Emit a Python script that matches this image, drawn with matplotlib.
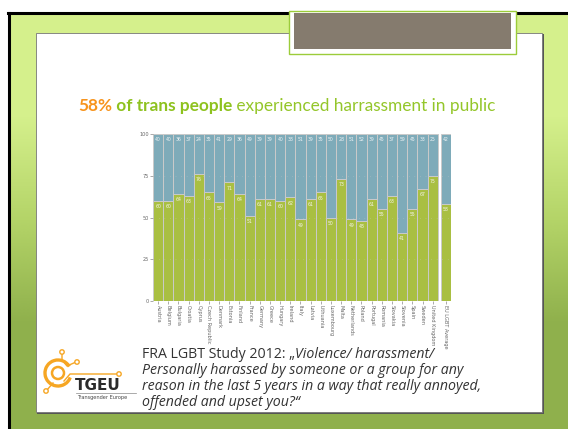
import matplotlib
matplotlib.use("Agg")
import matplotlib.pyplot as plt
import numpy as np
from matplotlib.colors import LinearSegmentedColormap
from matplotlib.patches import Rectangle, Circle, Arc

countries = ["Austria", "Belgium", "Bulgaria", "Croatia", "Cyprus", "Czech Republic",
             "Denmark", "Estonia", "Finland", "France", "Germany", "Greece", "Hungary",
             "Ireland", "Italy", "Latvia", "Lithuania", "Luxembourg", "Malta",
             "Netherlands", "Poland", "Portugal", "Romania", "Slovakia", "Slovenia",
             "Spain", "Sweden", "United Kingdom"]
yes_pct = [60, 60, 64, 63, 76, 65, 59, 71, 64, 51, 61, 61, 60, 62, 49, 61, 65, 50,
           73, 49, 48, 61, 55, 63, 41, 55, 67, 75]
no_pct = [40, 40, 36, 37, 24, 35, 41, 29, 36, 49, 39, 39, 40, 38, 51, 39, 35, 50,
          28, 51, 52, 39, 45, 37, 59, 45, 33, 25]
avg_label = "EU LGBT Average"
avg_yes = 58
avg_no = 42
yticks = [0, 25, 50, 75, 100]

GREEN = "#a9bf42"
BLUE = "#7eabb9"

fig = plt.figure(figsize=(5.68, 4.29), dpi=100)

# slide background in pixel coordinates
bg = fig.add_axes([0, 0, 1, 1])
bg.set_xlim(0, 568)
bg.set_ylim(429, 0)
bg.axis("off")
cmap = LinearSegmentedColormap.from_list("g", ["#d5f08c", "#b4d468", "#8fb04c"])
bg.imshow(np.array([[0.0], [1.0]]), cmap=cmap, extent=(8, 568, 429, 13),
          aspect="auto", interpolation="bilinear", zorder=0)
bg.plot([8, 568], [13, 13], color="black", lw=2.2, zorder=1)
bg.plot([9, 9], [13, 429], color="black", lw=2.2, zorder=1)
# white content panel with shadow
bg.add_patch(Rectangle((37, 34), 507, 380, facecolor="#555555", edgecolor="none", zorder=1))
bg.add_patch(Rectangle((36, 33), 506, 379, facecolor="white", edgecolor="#777777",
                       lw=0.6, zorder=2))
# grey title box
bg.add_patch(Rectangle((289, 11), 227, 43, facecolor="white", edgecolor="#9ccc3a",
                       lw=1.0, zorder=3))
bg.add_patch(Rectangle((294, 13), 217, 36, facecolor="#857b6e", edgecolor="none", zorder=4))

fig.canvas.draw()
r = fig.canvas.get_renderer()

# title made of three styled pieces
x = 78
for txt, col, wt in [("58%", "#f7941d", "bold"), (" of trans people", "#8ec21f", "bold"),
                     (" experienced harrassment in public", "#94c62a", "normal")]:
    t = bg.text(x, 106, txt, color=col, fontsize=12.4, fontweight=wt,
                family="Lato", va="center", ha="left", zorder=5)
    x += t.get_window_extent(renderer=r).width

# caption
cap_x = 142
cap_kw = dict(fontsize=10.2, color="#333333", family="Open Sans", va="center", zorder=5)
t1 = bg.text(cap_x, 355, "FRA LGBT Study 2012: \u201e", **cap_kw)
bg.text(cap_x + t1.get_window_extent(renderer=r).width, 355, "Violence/ harassment/",
        style="italic", **cap_kw)
for yy, line in [(371, "Personally harassed by someone or a group for any"),
                 (387, "reason in the last 5 years in a way that really annoyed,"),
                 (403, "offended and upset you?\u201c")]:
    bg.text(cap_x, yy, line, style="italic", **cap_kw)

# TGEU logo
ORANGE = "#f6a623"
bg.add_patch(Arc((58, 373), 26, 26, theta1=20, theta2=330, color=ORANGE, lw=2.4, zorder=5))
bg.add_patch(Circle((58, 373), 6, facecolor="none", edgecolor=ORANGE, lw=1.8, zorder=5))
bg.plot([62, 62, 67, 76], [353, 360, 366, 362], color=ORANGE, lw=1, zorder=5)
bg.plot([64, 70, 118], [381, 374, 374], color=ORANGE, lw=1, zorder=5)
bg.plot([47, 53], [390, 383], color=ORANGE, lw=1, zorder=5)
for cx, cy in [(62, 352), (77, 362), (119, 374), (46, 391)]:
    bg.add_patch(Circle((cx, cy), 2.2, facecolor="white", edgecolor=ORANGE, lw=1, zorder=6))
bg.text(75, 385, "TGEU", fontsize=11, fontweight="bold", color="#2b2b2b",
        family="DejaVu Sans", va="center", ha="left", zorder=6)
bg.plot([76, 136], [393, 393], color="#888888", lw=0.5, zorder=6)
bg.text(77, 398, "Transgender Europe", fontsize=3.6, color="#444444",
        va="center", ha="left", zorder=6)

# chart
ax = fig.add_axes([153 / 568, 1 - 301 / 429, 298 / 568, 167 / 429])
ax.set_facecolor("none")
pos = list(range(len(countries))) + [len(countries) + 0.3]
yes_all = yes_pct + [avg_yes]
no_all = no_pct + [avg_no]
labels = countries + [avg_label]
ax.bar(pos, yes_all, width=1.0, color=GREEN, edgecolor="#cacaca", lw=0.7)
ax.bar(pos, [100 - v for v in yes_all], bottom=yes_all, width=1.0, color=BLUE,
       edgecolor="#cacaca", lw=0.7)
for p, yv, nv in zip(pos, yes_all, no_all):
    ax.text(p, yv - 3.5, str(yv), color="#f4f4e8", fontsize=3.3, ha="center", va="center")
    ax.text(p, 96.5, str(nv), color="#eef3f5", fontsize=3.3, ha="center", va="center")
for yv in [25, 50, 75]:
    ax.axhline(yv, color="#c8c8c8", lw=0.4, ls=(0, (1, 9)), zorder=3)
ax.set_xlim(-0.5, len(countries) + 0.8)
ax.set_ylim(0, 100)
ax.set_yticks(yticks)
ax.set_yticklabels([str(v) for v in yticks])
ax.set_xticks(pos)
ax.set_xticklabels(labels, rotation=270, ha="center", va="top")
ax.tick_params(axis="both", labelsize=3.6, labelcolor="#666666", color="#888888",
               length=2, width=0.5, pad=1)
for s in ax.spines.values():
    s.set_visible(False)

fig.savefig("out.png", dpi=100)
